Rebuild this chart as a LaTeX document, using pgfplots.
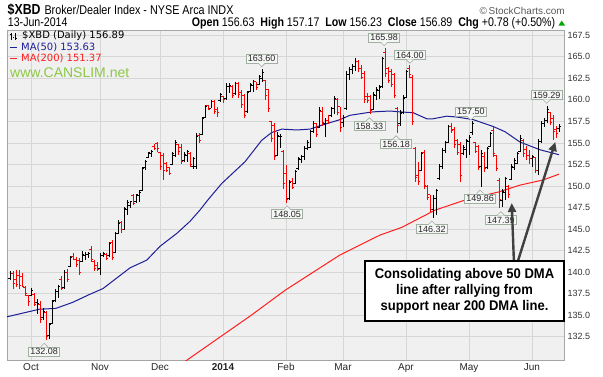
\documentclass[border=0pt]{standalone}
\usepackage{pgfplots}
\pgfplotsset{compat=1.18}
\usepackage{pgfplotstable}
\usetikzlibrary{arrows.meta}
\usepackage{fontspec}
\setmainfont{Liberation Sans}
\newfontfamily\narrowfont[FakeStretch=0.85]{Liberation Sans}
\newfontfamily\legfont{DejaVu Sans}
\newfontfamily\annfont[FakeStretch=0.93]{Liberation Sans}

\definecolor{plotbg}{RGB}{240,240,240}
\definecolor{gridc}{RGB}{214,214,214}
\definecolor{framec}{RGB}{165,165,165}
\definecolor{ma50}{RGB}{30,30,150}
\definecolor{barred}{RGB}{255,0,0}
\definecolor{ma200}{RGB}{255,30,30}
\definecolor{canslim}{RGB}{140,200,70}
\definecolor{labfill}{RGB}{246,246,246}
\definecolor{labdraw}{RGB}{160,176,160}
\definecolor{arrowc}{RGB}{64,64,64}
\definecolor{upgreen}{RGB}{0,170,0}

\pgfdeclareplotmark{otick}{\pgfpathmoveto{\pgfqpoint{-\pgfplotmarksize}{0pt}}\pgfpathlineto{\pgfqpoint{0.3pt}{0pt}}\pgfusepathqstroke}
\pgfdeclareplotmark{ctick}{\pgfpathmoveto{\pgfqpoint{-0.3pt}{0pt}}\pgfpathlineto{\pgfqpoint{\pgfplotmarksize}{0pt}}\pgfusepathqstroke}

\pgfplotstableread{
i o h l c k
-7 139.3 140.1 139.1 139.8 0
-6 139.9 140.1 138.0 138.7 1
-5 139.2 140.3 138.3 138.6 1
-4 139.6 140.2 138.1 138.5 1
-3 139.5 139.9 138.3 138.4 1
-2 138.2 138.4 137.2 137.5 1
-1 137.3 137.4 136.1 136.6 1
0 137.3 138.2 137.2 137.9 0
1 137.4 137.6 136.1 136.3 1
2 136.5 136.9 135.2 136.4 0
3 136.3 136.6 134.1 134.5 1
4 134.7 135.8 134.5 135.5 0
5 135.3 135.5 132.08 132.6 1
6 132.7 134.1 132.3 133.9 0
7 134.0 136.8 134.0 136.6 0
8 136.7 138.0 136.5 137.8 0
9 137.8 138.5 137.0 138.3 0
10 139.2 139.5 137.9 138.1 1
11 138.2 140.2 138.1 140.0 0
12 140.0 140.4 138.9 139.1 1
13 140.7 141.9 140.6 141.7 0
14 141.8 142.2 141.4 141.5 1
15 141.5 141.8 140.6 140.9 1
16 141.4 141.6 139.7 140.0 1
17 141.3 142.4 141.2 142.0 0
18 141.9 142.3 141.4 142.1 0
19 142.0 142.3 141.6 142.2 0
20 142.6 143.0 141.2 141.5 1
21 141.3 141.4 140.1 140.4 1
22 140.8 141.2 140.1 140.3 1
23 140.4 142.2 139.7 141.9 0
24 141.9 142.3 141.8 142.2 0
25 142.1 142.2 141.4 141.6 1
26 141.9 143.5 141.8 143.3 0
27 143.5 143.7 141.4 141.7 1
28 142.3 144.7 142.2 144.5 0
29 144.5 146.0 144.4 145.7 0
30 145.8 145.9 144.5 144.9 1
31 145.0 147.6 144.9 147.4 0
32 147.3 148.4 146.6 148.1 0
33 147.8 148.3 147.4 148.2 0
34 148.9 149.1 147.8 148.0 1
35 148.2 149.1 148.0 149.0 0
36 148.9 149.5 148.2 149.3 0
37 149.5 152.2 149.4 152.0 0
38 152.1 153.0 151.9 152.8 0
39 153.3 154.0 153.2 153.9 0
40 153.8 154.2 153.4 154.0 0
41 154.6 154.9 154.2 154.4 1
42 154.9 155.1 154.0 154.3 1
43 153.9 154.0 151.9 152.3 1
44 153.5 153.8 150.7 151.8 1
45 152.6 152.8 151.7 151.75 1
46 152.1 152.2 151.3 151.5 1
47 152.5 154.0 152.4 153.8 0
48 153.6 155.3 153.4 155.1 0
49 154.8 154.9 153.6 154.0 1
50 154.5 154.9 152.6 152.9 1
51 153.0 153.9 152.8 153.7 0
52 153.6 154.2 152.8 154.0 0
53 153.8 154.0 152.2 152.5 1
54 152.3 153.4 152.0 153.2 0
55 152.3 156.1 152.0 155.8 0
56 155.9 156.2 155.0 155.3 1
57 156.0 158.0 155.9 157.8 0
58 157.9 159.4 157.9 159.2 0
59 159.3 159.4 158.8 158.9 1
60 159.0 160.0 159.0 159.8 0
61 159.8 160.0 158.4 158.7 1
62 158.9 159.2 158.0 158.5 1
63 159.9 160.8 159.8 160.6 0
64 160.4 160.4 159.6 160.0 1
65 160.1 161.9 160.0 161.6 0
66 161.5 161.9 160.8 161.7 0
67 161.6 161.7 160.2 160.5 1
68 160.7 162.1 160.6 161.9 0
69 161.9 162.1 160.2 160.6 1
70 160.8 161.1 159.0 159.5 1
71 160.5 160.7 157.9 158.2 1
72 158.6 161.0 158.5 160.8 0
73 161.0 161.9 160.9 161.8 0
74 161.7 162.3 160.9 162.1 0
75 162.1 162.1 161.1 161.4 1
76 161.8 162.9 161.7 162.7 0
77 162.5 163.6 162.1 163.2 0
78 162.3 162.3 160.0 160.5 1
79 161.2 161.3 158.6 159.0 1
80 157.5 157.5 155.1 155.5 1
81 157.0 157.3 153.0 153.4 1
82 153.6 156.3 153.5 155.9 0
83 155.8 156.0 154.4 155.7 0
84 154.0 154.2 149.7 150.3 1
85 151.5 152.4 148.05 148.4 1
86 148.6 150.7 148.4 150.4 0
87 150.5 150.9 149.6 149.8 1
88 150.3 151.9 150.2 151.7 0
89 152.0 153.4 151.9 153.2 0
90 153.1 153.6 152.7 153.4 0
91 153.4 154.6 153.0 154.4 0
92 154.4 155.3 154.2 155.0 0
93 154.5 156.5 154.4 156.3 0
94 156.3 157.5 156.2 157.2 0
95 157.2 157.3 155.7 156.0 1
96 156.8 159.2 156.7 158.8 0
97 158.6 159.2 157.0 157.4 1
98 157.2 157.9 155.7 157.6 0
99 157.6 158.2 157.2 157.4 1
100 158.2 159.2 158.0 159.0 0
101 159.0 160.4 158.4 160.1 0
102 160.0 160.2 158.2 158.5 1
103 159.2 159.2 156.3 156.8 1
104 157.4 158.2 156.8 157.9 0
105 159.0 163.3 158.8 163.0 0
106 163.0 163.8 162.3 163.5 0
107 163.5 164.2 163.0 163.9 0
108 163.9 164.8 163.4 164.5 0
109 164.5 164.6 163.2 163.6 1
110 163.6 164.0 162.4 162.6 1
111 163.1 163.3 159.6 160.0 1
112 160.4 160.8 159.6 159.9 1
113 160.4 160.6 158.33 158.8 1
114 158.9 160.9 158.8 160.6 0
115 160.5 161.5 160.0 161.2 0
116 161.1 161.7 160.1 161.4 0
117 161.5 165.0 161.4 164.8 0
118 165.5 165.98 162.7 163.1 1
119 163.6 163.8 161.9 162.2 1
120 163.3 163.6 161.5 161.8 1
121 162.9 163.1 160.2 160.5 1
122 159.0 159.2 156.18 157.0 1
123 157.3 158.8 157.0 158.4 0
124 158.5 160.6 158.4 160.2 0
125 160.3 163.5 160.2 163.3 0
126 163.6 164.0 162.5 162.9 1
127 162.6 162.9 157.1 157.5 1
128 154.3 154.5 150.5 151.0 1
129 151.2 152.8 150.1 150.5 1
130 151.8 154.0 151.7 153.8 0
131 153.9 154.2 149.7 150.1 1
132 150.0 150.1 148.4 148.7 1
133 149.0 149.0 147.0 147.3 1
134 147.3 148.9 146.32 148.6 0
135 148.5 149.7 146.6 149.5 0
136 150.9 152.6 150.7 152.3 0
137 152.3 154.4 152.0 154.1 0
138 154.1 155.2 153.8 155.0 0
139 155.1 157.1 155.0 156.9 0
140 156.9 157.3 156.1 156.4 1
141 156.6 156.9 154.4 154.8 1
142 155.3 155.5 153.6 153.9 1
143 154.8 155.1 150.5 151.2 1
144 153.8 154.8 153.6 154.5 0
145 154.2 155.5 153.2 155.3 0
146 155.2 155.9 153.6 155.6 0
147 156.2 157.5 155.9 157.2 0
148 155.0 155.1 153.8 154.0 1
149 154.6 154.8 151.9 152.2 1
150 152.3 154.2 149.86 153.8 0
151 153.4 154.0 151.6 152.0 1
152 152.2 154.5 152.0 154.3 0
153 154.6 156.3 154.5 156.1 0
154 156.5 156.9 153.4 153.8 1
155 153.5 153.6 151.7 152.0 1
156 150.6 150.9 147.39 148.4 1
157 148.3 149.6 147.6 149.4 0
158 149.3 151.1 148.4 150.9 0
159 150.0 150.1 148.6 149.0 1
160 150.8 152.6 150.7 152.3 0
161 152.2 153.2 151.9 153.0 0
162 152.6 154.0 152.5 153.8 0
163 154.0 155.9 153.9 155.5 0
164 155.3 155.4 153.4 153.8 1
165 154.2 154.6 153.0 153.5 1
166 153.6 154.2 152.6 153.2 1
167 153.2 153.6 152.2 153.4 0
168 153.3 153.4 151.5 151.8 1
169 151.8 155.5 151.3 155.2 0
170 155.2 157.5 155.0 157.2 0
171 157.2 157.9 156.8 157.6 0
172 157.6 159.29 157.3 158.9 0
173 158.5 158.6 157.1 157.4 1
174 157.8 158.2 155.3 156.3 1
175 156.6 157.0 155.6 156.11 1
176 156.63 157.17 156.23 156.89 0
}\ohlc

\tikzset{lab/.style={draw=labdraw, fill=labfill, line width=0.6pt, inner xsep=1.8pt, inner ysep=1.3pt, font=\fontsize{9}{9}\selectfont, text=black!85}}
\newcommand{\labdown}[3]{%
 \node[lab] (L) at (axis cs:#1,#2) {#3};
 \fill[labfill] ([xshift=-3.5pt,yshift=0.4pt]L.south) -- ([yshift=-3.5pt]L.south) -- ([xshift=3.5pt,yshift=0.4pt]L.south) -- cycle;
 \draw[labdraw, line width=0.6pt] ([xshift=-3.5pt]L.south) -- ([yshift=-3.5pt]L.south) -- ([xshift=3.5pt]L.south);}
\newcommand{\labup}[3]{%
 \node[lab] (L) at (axis cs:#1,#2) {#3};
 \fill[labfill] ([xshift=-3.5pt,yshift=-0.4pt]L.north) -- ([yshift=3.5pt]L.north) -- ([xshift=3.5pt,yshift=-0.4pt]L.north) -- cycle;
 \draw[labdraw, line width=0.6pt] ([xshift=-3.5pt]L.north) -- ([yshift=3.5pt]L.north) -- ([xshift=3.5pt]L.north);}

\begin{document}
\begin{tikzpicture}[x=1pt,y=1pt]
\useasboundingbox (0,0) rectangle (603,376);
\begin{axis}[
  at={(7pt,16pt)}, anchor=south west,
  width=557pt, height=330pt, scale only axis,
  xmin=-8, xmax=177.67, ymin=129.81, ymax=168.1,
  axis background/.style={fill=plotbg},
  axis line style={framec, line width=0.9pt},
  xtick={0,23,43,64,85,104,125,146,167},
  xticklabels={Oct,Nov,Dec,\textbf{2014},Feb,Mar,Apr,May,Jun},
  ytick={132.5,135,137.5,140,142.5,145,147.5,150,152.5,155,157.5,160,162.5,165,167.5},
  yticklabel pos=right,
  major tick length=0pt,
  grid=major, grid style={gridc, line width=0.7pt},
  /pgf/number format/assume math mode=true,
  yticklabel style={font=\fontsize{9}{10}\selectfont, text=black!80, /pgf/number format/.cd, fixed, fixed zerofill, precision=1},
  xticklabel style={font=\fontsize{10}{11}\selectfont, text=black!85},
]
% moving averages
\addplot[ma50, line width=1pt, forget plot] coordinates {
(-8.3,134.8) (2.8,135.7) (8.3,135.8) (13.9,136.5) (19.4,137.4) (24,138.1) (33,140.5) (38.6,141.4) (43,143.0) (48.6,144.5) (53,145.9) (56.3,147.2) (59,148.4) (63.6,150.3) (71.3,152.8) (76.9,155.3) (80.2,156.2) (83.6,156.6) (88.6,156.5) (93,156.6) (97.3,157.1) (103,157.7) (106.3,158.2) (111.9,158.5) (114,158.6) (119.7,158.7) (123,158.6) (127.4,158.5) (131.9,157.8) (134,157.8) (138.6,158.1) (142,158.0) (147.4,157.7) (154.1,156.9) (158,156.3) (163,155.1) (169.7,154.2) (176,153.63)};
\addplot[ma200, line width=1pt, forget plot] coordinates {
(50,129.3) (52.4,129.9) (69.7,134.1) (73,134.9) (84.7,137.9) (103,142.0) (116.3,144.3) (123.6,145.2) (134.7,147.2) (145.8,148.5) (155.8,149.3) (163,150.1) (170.7,150.7) (176,151.37)};
% black bars
\addplot[black, line width=0.9pt, only marks, mark=ctick, mark size=1.7pt, mark options={line width=0.9pt},
  error bars/.cd, y dir=both, y explicit, error mark=none, error bar style={line width=0.9pt, black}]
  table[x=i, y expr={\thisrow{k}<0.5 ? \thisrow{c} : nan}, y error plus expr={\thisrow{h}-\thisrow{c}}, y error minus expr={\thisrow{c}-\thisrow{l}}] {\ohlc};
\addplot[black, line width=0.9pt, only marks, mark=otick, mark size=1.7pt, mark options={line width=0.9pt}]
  table[x=i, y expr={\thisrow{k}<0.5 ? \thisrow{o} : nan}] {\ohlc};
% red bars
\addplot[barred, line width=0.9pt, only marks, mark=ctick, mark size=1.7pt, mark options={line width=0.9pt},
  error bars/.cd, y dir=both, y explicit, error mark=none, error bar style={line width=0.9pt, barred}]
  table[x=i, y expr={\thisrow{k}>0.5 ? \thisrow{c} : nan}, y error plus expr={\thisrow{h}-\thisrow{c}}, y error minus expr={\thisrow{c}-\thisrow{l}}] {\ohlc};
\addplot[barred, line width=0.9pt, only marks, mark=otick, mark size=1.7pt, mark options={line width=0.9pt}]
  table[x=i, y expr={\thisrow{k}>0.5 ? \thisrow{o} : nan}] {\ohlc};
% value labels
\labdown{76.9}{164.81}{163.60}
\labdown{117.7}{167.25}{165.98}
\labdown{126.3}{165.20}{164.00}
\labdown{146.6}{158.62}{157.50}
\labdown{171.9}{160.56}{159.29}
\labup{112.8}{156.96}{158.33}
\labup{121.7}{154.87}{156.18}
\labup{85.4}{146.72}{148.05}
\labup{133.6}{144.98}{146.32}
\labup{149.7}{148.57}{149.86}
\labup{156.6}{146.06}{147.39}
\labup{4.4}{130.78}{132.08}
\end{axis}
% header
\node[anchor=base west, inner sep=0, font=\narrowfont\bfseries\fontsize{14.5}{15}\selectfont] at (7.5,361.5) {\$XBD};
\node[anchor=base west, inner sep=0, font=\narrowfont\fontsize{12.7}{13}\selectfont] at (44.3,361.5) {Broker/Dealer Index - NYSE Arca INDX};
\node[anchor=base east, inner sep=0, font=\fontsize{10}{11}\selectfont, text=black!65] at (565,361.5) {\textcopyright\,StockCharts.com};
\node[anchor=base west, inner sep=0, font=\narrowfont\fontsize{12.5}{13}\selectfont] at (7.7,349) {13-Jun-2014};
\node[anchor=base east, inner sep=0, font=\narrowfont\fontsize{12.5}{13}\selectfont] at (555.3,349) {\textbf{Open} 156.63 \ \textbf{High} 157.17 \ \textbf{Low} 156.23 \ \textbf{Close} 156.89 \ \textbf{Chg} +0.78 (+0.50\%)};
\fill[upgreen] (558.5,350.5) -- (565,350.5) -- (561.75,355.5) -- cycle;
% legend
\draw[black, line width=0.8pt] (11.5,336.5) -- (11.5,343) (10,341.5) -- (11.5,341.5) (15.5,336) -- (15.5,343.5) (15.5,338) -- (17,338) (13,338.5)--(14,338.5);
\node[anchor=west, inner sep=0, font=\legfont\fontsize{10}{11}\selectfont] at (22,340) {\$XBD (Daily) 156.89};
\draw[ma50, line width=1.6pt] (9.6,328.5) -- (17.4,328.5);
\node[anchor=west, inner sep=0, font=\legfont\fontsize{10}{11}\selectfont, text=ma50] at (21,328.5) {MA(50) 153.63};
\draw[ma200, line width=1.6pt] (9.6,317.5) -- (17.4,317.5);
\node[anchor=west, inner sep=0, font=\legfont\fontsize{10}{11}\selectfont, text=ma200] at (21,317.5) {MA(200) 151.37};
\node[anchor=west, inner sep=0, font=\fontsize{14}{14}\selectfont, text=canslim] at (10,303) {www.CANSLIM.net};
% arrows
\draw[arrowc, line width=2.4pt, -{Triangle[length=9pt,width=8pt]}] (514,112) -- (511.7,173);
\draw[arrowc, line width=2.4pt, -{Triangle[length=9pt,width=8pt]}] (517,112) -- (555.3,234);
% annotation
\node[draw=black, line width=2pt, fill=white, minimum width=199pt, minimum height=60pt, inner sep=0, align=center,
  font=\annfont\bfseries\fontsize{14}{16}\selectfont] at (464.5,85.1)
  {Consolidating above 50 DMA\\line after rallying from\\support near 200 DMA line.};
\end{tikzpicture}
\end{document}
